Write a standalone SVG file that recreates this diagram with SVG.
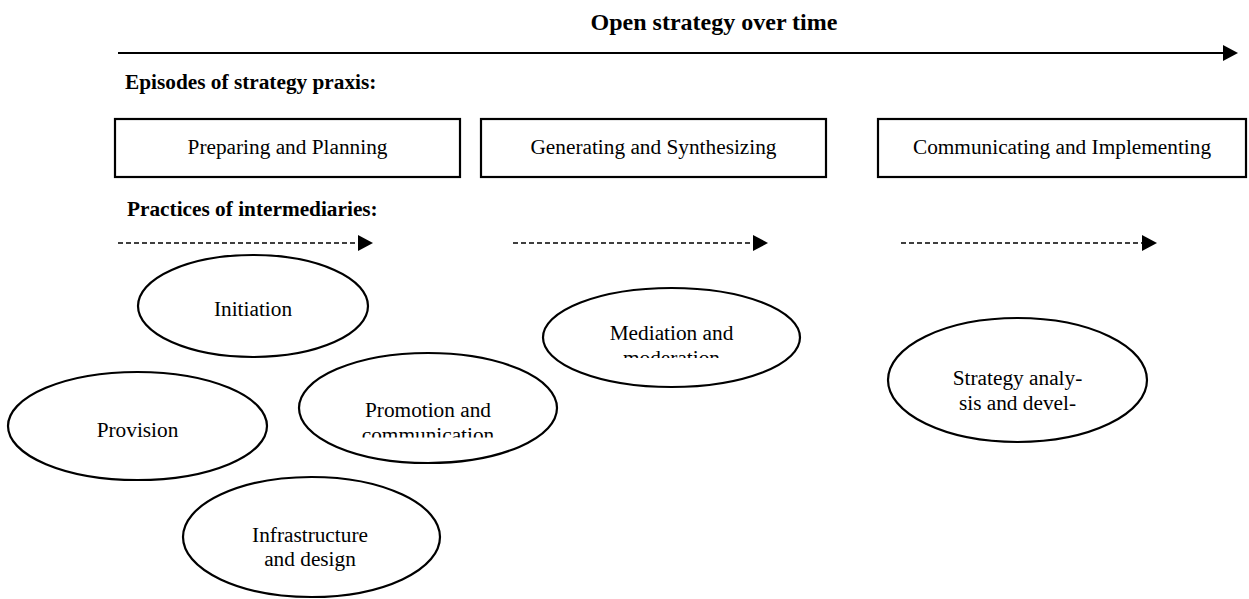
<svg xmlns="http://www.w3.org/2000/svg" width="1249" height="599" viewBox="0 0 1249 599">
<style>
text{font-family:"Liberation Serif","Times New Roman",serif;fill:#000}
.t{font-size:21.3px;text-anchor:middle}
.h{font-size:21.3px;font-weight:bold}
.box{fill:#fff;stroke:#000;stroke-width:2.2}
.el{fill:#fff;stroke:#000;stroke-width:2.2}
.dash{stroke:#000;stroke-width:1.3;stroke-dasharray:5,3;fill:none}
</style>
<defs>
<clipPath id="cMed"><rect x="540" y="300" width="260" height="58"/></clipPath>
<clipPath id="cPro"><rect x="300" y="380" width="260" height="57.5"/></clipPath>
</defs>
<text x="714" y="30" style="font-size:24px;font-weight:bold;text-anchor:middle">Open strategy over time</text>
<g id="connectors">
<line x1="118" y1="53" x2="1223" y2="53" stroke="#000" stroke-width="2"/>
<polygon points="1223,45 1238,53 1223,61" fill="#000"/>
<line class="dash" x1="118" y1="243" x2="358" y2="243"/>
<polygon points="358,235 373,243 358,251" fill="#000"/>
<line class="dash" x1="513" y1="243" x2="753" y2="243"/>
<polygon points="753,235 768,243 753,251" fill="#000"/>
<line class="dash" x1="901" y1="243" x2="1142" y2="243"/>
<polygon points="1142,235 1157,243 1142,251" fill="#000"/>
</g>
<text class="h" x="125" y="89">Episodes of strategy praxis:</text>
<text class="h" x="127" y="216">Practices of intermediaries:</text>
<g id="box1"><rect class="box" x="115" y="119" width="345" height="58"/><text class="t" x="287.5" y="154">Preparing and Planning</text></g>
<g id="box2"><rect class="box" x="481" y="119" width="345" height="58"/><text class="t" x="653.5" y="154">Generating and Synthesizing</text></g>
<g id="box3"><rect class="box" x="878" y="119" width="368" height="58"/><text class="t" x="1062" y="154">Communicating and Implementing</text></g>
<g id="initiation"><ellipse class="el" cx="253" cy="306" rx="115" ry="51"/><text class="t" x="253" y="316">Initiation</text></g>
<g id="provision"><ellipse class="el" cx="137.5" cy="426" rx="129.5" ry="54"/><text class="t" x="137.5" y="437">Provision</text></g>
<g id="promotion"><ellipse class="el" cx="428" cy="408" rx="129" ry="55"/><text class="t" clip-path="url(#cPro)"><tspan x="428" y="417">Promotion and</tspan><tspan x="428" y="441.5">communication</tspan></text></g>
<g id="infrastructure"><ellipse class="el" cx="311.5" cy="537" rx="128.5" ry="60"/><text class="t"><tspan x="310" y="542">Infrastructure</tspan><tspan x="310" y="566">and design</tspan></text></g>
<g id="mediation"><ellipse class="el" cx="671.5" cy="337.5" rx="128.5" ry="49.5"/><text class="t" clip-path="url(#cMed)"><tspan x="671.5" y="340">Mediation and</tspan><tspan x="671.5" y="364.5">moderation</tspan></text></g>
<g id="strategy"><ellipse class="el" cx="1017.5" cy="380" rx="129.5" ry="62"/><text class="t"><tspan x="1017.5" y="385">Strategy analy-</tspan><tspan x="1017.5" y="409.5">sis and devel-</tspan></text></g>
</svg>
